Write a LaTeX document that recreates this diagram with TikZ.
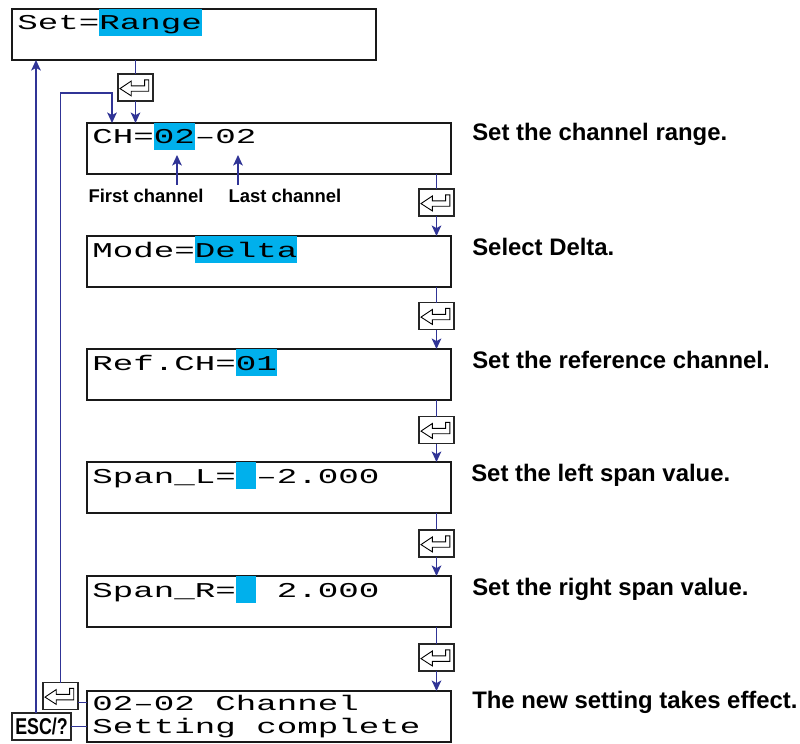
\documentclass[tikz,border=0pt]{standalone}
\usepackage{fontspec}
\usepackage{tikz}
\usetikzlibrary{arrows.meta,
                positioning
                }
\setmainfont{Liberation Sans}
\newfontfamily\lcdfont[FakeStretch=1.62]{Liberation Mono}
\newfontfamily\escfont[FakeStretch=0.78]{Liberation Sans}
\definecolor{flowblue}{RGB}{48,52,150}
\definecolor{lcdcyan}{RGB}{0,176,236}
\newcommand\hl[1]{{\setlength\fboxsep{0pt}\colorbox{lcdcyan}{\vrule height 11.9pt depth 3.6pt width 0pt #1}}}
\newcommand\retglyph[1]{\draw[line width=0.5pt, shift={(#1.north west)}]
        (2,14.6) -- (13.3,7) -- (13.3,11.9) -- (26.6,11.9) -- (26.6,5.9)
        -- (30.8,5.9) -- (30.8,17.3) -- (13.3,17.3) -- (13.3,21.9) -- cycle;}

\tikzset{
    lcdbox/.style={draw=black!90, line width=1.1pt, outer sep=0pt, inner sep=0pt,
                   anchor=north west, minimum width=7.28cm, minimum height=1.02cm},
    lcdtext/.style={font=\lcdfont\fontsize{12}{14}\selectfont, inner sep=0pt, anchor=base west},
    note/.style={font=\fontsize{13.6}{16}\selectfont\bfseries, inner sep=0pt, anchor=base west},
    smallnote/.style={font=\fontsize{10.5}{12}\selectfont\bfseries, inner sep=2pt, anchor=base},
    flow/.style={draw=flowblue, line width=0.7pt},
    arrowflow/.style={flow, -{Stealth[length=6pt,width=5.5pt,inset=1.5pt]}},
    enterkey/.style={draw=black!85, line width=0.6pt, fill=white, inner sep=0pt, outer sep=0pt,
                     minimum width=0.7cm, minimum height=0.54cm},
    esckey/.style={draw=black!85, line width=0.6pt, fill=white, inner sep=0pt, outer sep=0pt,
                   minimum width=1.18cm, minimum height=0.54cm,
                   font=\escfont\fontsize{13}{15}\selectfont\bfseries}
}

\begin{document}
\begin{tikzpicture}[x=0.02cm, y=-0.02cm]
            \useasboundingbox (0,0) rectangle (800,743);

            %display boxes
            \node[lcdbox] (setbox) at (12,9) {};
            \node[lcdbox] (chbox) at (87,123) {};
            \node[lcdbox] (modebox) at (87,236) {};
            \node[lcdbox] (refbox) at (87,349) {};
            \node[lcdbox] (spanlbox) at (87,462) {};
            \node[lcdbox] (spanrbox) at (87,576) {};
            \node[lcdbox] (donebox) at (87,691) {};

            %display texts
            \node[lcdtext] (settxt) at ([shift={(5,21)}]setbox.north west) {Set=\hl{Range}};
            \node[lcdtext] (chtxt) at ([shift={(5,21)}]chbox.north west) {CH=\hl{02}–02};
            \node[lcdtext] (modetxt) at ([shift={(5,21)}]modebox.north west) {Mode=\hl{Delta}};
            \node[lcdtext] (reftxt) at ([shift={(5,21)}]refbox.north west) {Ref.CH=\hl{01}};
            \node[lcdtext] (spanltxt) at ([shift={(5,21)}]spanlbox.north west) {Span\_L=\hl{\hphantom{0}}–2.000};
            \node[lcdtext] (spanrtxt) at ([shift={(5,21)}]spanrbox.north west) {Span\_R=\hl{\hphantom{0}}\hphantom{0}2.000};
            \node[lcdtext] (done1) at ([shift={(5,19)}]donebox.north west) {02–02 Channel};
            \node[lcdtext] (done2) at ([shift={(5,42)}]donebox.north west) {Setting complete};

            %notes on the right
            \node[note] (chnote) at ([shift={(21,18)}]chbox.north east) {Set the channel range.};
            \node[note] (modenote) at ([shift={(21,19)}]modebox.north east) {Select Delta.};
            \node[note] (refnote) at ([shift={(21,19)}]refbox.north east) {Set the reference channel.};
            \node[note] (spanlnote) at ([shift={(20,19)}]spanlbox.north east) {Set the left span value.};
            \node[note] (spanrnote) at ([shift={(21,19)}]spanrbox.north east) {Set the right span value.};
            \node[note] (donenote) at ([shift={(21,17)}]donebox.north east) {The new setting takes effect.};

            %channel labels
            \node[smallnote] (firstch) at (146,202) {First channel};
            \node[smallnote] (lastch) at (285,202) {Last channel};
            \coordinate (firsttip) at (177,155);
            \coordinate (lasttip) at (238,155);
            \draw[arrowflow] (firsttip |- firstch.north) -- (firsttip);
            \draw[arrowflow] (lasttip |- lastch.north) -- (lasttip);

            %enter keys down the right
            \node[enterkey] (kset) at (135.5,87.5) {};
            \retglyph{kset}
            \draw[flow] (kset.north |- setbox.south) -- (kset.north);
            \draw[arrowflow] (kset.south) -- (kset.south |- chbox.north);
            \foreach \a/\b/\k/\ky in {chbox/modebox/kch/202.5, modebox/refbox/kmode/316,
                                      refbox/spanlbox/kref/430, spanlbox/spanrbox/kspanl/543.5,
                                      spanrbox/donebox/kspanr/657.5}{
                \node[enterkey] (\k) at (436.5,\ky) {};
                \retglyph{\k}
                \draw[flow] (\k.north |- \a.south) -- (\k.north);
                \draw[arrowflow] (\k.south) -- (\k.south |- \b.north);
            }

            %keys on the left and loops back
            \node[enterkey] (kback) at (60.5,696) {};
            \retglyph{kback}
            \node[esckey] (kesc) at (41.5,726.5) {ESC/?};
            \draw[flow] (kback.east |- done1.center) -- (donebox.west |- done1.center);
            \draw[flow] (kesc.east) -- (kesc.east -| donebox.west);
            \coordinate (escup) at (36,0);
            \coordinate (backturn) at (112,93);
            \draw[arrowflow] (kesc.north -| escup) -- (setbox.south -| escup);
            \draw[arrowflow] (kback.north) |- (backturn) -- (backturn |- chbox.north);
\end{tikzpicture}
\end{document}
